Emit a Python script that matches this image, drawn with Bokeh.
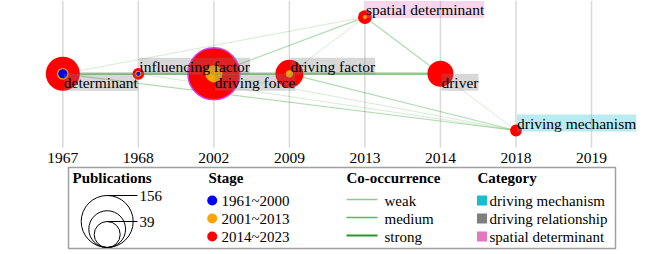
import numpy as np
from bokeh.plotting import figure
from bokeh.models import Range1d, ColumnDataSource
from bokeh.core.properties import value
from bokeh.embed import file_html
from bokeh.resources import INLINE

# ---------------- data ----------------
years = [1967, 1968, 2002, 2009, 2013, 2014, 2018, 2019]
keywords = ["determinant", "influencing factor", "driving force", "driving factor",
            "spatial determinant", "driver", "driving mechanism"]
kw_year = [1967, 1968, 2002, 2009, 2013, 2014, 2018]
kw_lane = [0, 0, 0, 0, 1, 0, -1]
kw_total = [67, 8, 156, 45, 11, 39, 8]          # all publications (to 2023)
kw_upto2013 = [8, 2, 17, 3, 1, 0, 0]             # cumulative to 2013
kw_upto2000 = [5, 1, 0, 0, 0, 0, 0]              # cumulative to 2000
kw_category = ["driving relationship", "driving relationship", "driving relationship",
               "driving relationship", "spatial determinant", "driving relationship",
               "driving mechanism"]
kw_label_side = ["below", "above", "below", "above", "above", "below", "above"]
kw_burst = [False, False, True, False, False, False, False]

edge_src = ["determinant", "influencing factor", "driving force", "driving factor",
            "determinant", "driving force", "driving factor", "spatial determinant",
            "determinant", "influencing factor", "driving force", "driving factor", "driver"]
edge_dst = ["influencing factor", "driving force", "driving factor", "driver",
            "spatial determinant", "spatial determinant", "spatial determinant", "driver",
            "driving mechanism", "driving mechanism", "driving mechanism", "driving mechanism",
            "driving mechanism"]
edge_weight = [20, 18, 25, 22, 2, 6, 2, 5, 6, 3, 4, 6, 4]

stage_labels = ["1961~2000", "2001~2013", "2014~2023"]
stage_colors = ["#0000ff", "#ffa500", "#ff0000"]
categories = ["driving mechanism", "driving relationship", "spatial determinant"]
category_colors = ["#17becf", "#7f7f7f", "#e377c2"]
cooc_labels = ["weak", "medium", "strong"]
cooc_colors = ["#8ccc8c", "#5cb85c", "#2a972a"]
size_legend = [156, 78, 39]
size_legend_labels = ["156", "", "39"]

# ---------------- layout helpers ----------------
W, H = 659, 254
COL0, COLW = 62.3, 75.53
ROW0, ROWH = 73.3, 56.7
MAXR, MAXN = 26.0, 156.0
FONT = value("Liberation Serif")


def X(px):
    return (px - COL0) / COLW


def Y(py):
    return (ROW0 - py) / ROWH


def radius(n):
    return MAXR * np.sqrt(np.asarray(n, dtype=float) / MAXN)


p = figure(width=W, height=H, output_backend="svg", toolbar_location=None,
           x_range=Range1d(X(0), X(W)), y_range=Range1d(Y(H), Y(0)),
           min_border=0, outline_line_color=None)
p.axis.visible = False
p.grid.visible = False
p.background_fill_color = "white"

# gridlines + tick labels
col_idx = list(range(len(years)))
p.segment(x0=col_idx, y0=[Y(0)] * len(years), x1=col_idx, y1=[Y(147)] * len(years),
          line_color="#d9d9d9", line_width=1.5)
p.text(x=col_idx, y=[Y(157.5)] * len(years), text=[str(y) for y in years],
       text_font=FONT, text_font_size="15.5px", text_align="center",
       text_baseline="middle", text_color="black")

# node positions
node_x = [years.index(y) for y in kw_year]
node_y = kw_lane
pos = {k: (node_x[i], node_y[i]) for i, k in enumerate(keywords)}

# edges
def strength(w):
    return "strong" if w >= 15 else ("medium" if w >= 5 else "weak")

edge_style = {"weak": (0.2, 1.0), "medium": (0.38, 1.2), "strong": (0.55, 2.5)}
ex0, ey0, ex1, ey1, ea, ew = [], [], [], [], [], []
for s, d, w in zip(edge_src, edge_dst, edge_weight):
    ex0.append(pos[s][0]); ey0.append(pos[s][1])
    ex1.append(pos[d][0]); ey1.append(pos[d][1])
    a, lw = edge_style[strength(w)]
    ea.append(a); ew.append(lw)
p.segment(x0=ex0, y0=ey0, x1=ex1, y1=ey1, line_color="#2ca02c", line_alpha=ea, line_width=ew)

# nodes (concentric by stage)
outline = ["#d040f0" if b else None for b in kw_burst]
p.scatter(x=node_x, y=node_y, size=2 * radius(kw_total), fill_color=stage_colors[2],
          line_color=outline, line_width=1.5)
sel = [i for i, n in enumerate(kw_upto2013) if n > 0]
p.scatter(x=[node_x[i] for i in sel], y=[node_y[i] for i in sel],
          size=2 * radius([kw_upto2013[i] for i in sel]), fill_color=stage_colors[1], line_color=None)
sel = [i for i, n in enumerate(kw_upto2000) if n > 0]
p.scatter(x=[node_x[i] for i in sel], y=[node_y[i] for i in sel],
          size=2 * radius([kw_upto2000[i] for i in sel]), fill_color=stage_colors[0], line_color=None)

# labels
cat_col = dict(zip(categories, category_colors))
for side in ["above", "below"]:
    idx = [i for i, s in enumerate(kw_label_side) if s == side]
    src = ColumnDataSource(dict(
        x=[node_x[i] for i in idx], y=[node_y[i] for i in idx],
        text=[keywords[i] for i in idx],
        bg=[cat_col[kw_category[i]] for i in idx]))
    p.text(x="x", y="y", text="text", source=src, text_font=FONT, text_font_size="15.5px",
           text_align="left", text_baseline="bottom" if side == "above" else "top",
           x_offset=1, y_offset=1 if side == "above" else 0, text_color="black",
           background_fill_color="bg", background_fill_alpha=0.3)

# ---------------- legend ----------------
p.quad(left=[X(68)], right=[X(615)], top=[Y(167)], bottom=[Y(248)],
       fill_color="white", fill_alpha=0, line_color="#a0a0a0", line_width=1.5)

title_kw = dict(text_font=FONT, text_font_size="15px", text_font_style="bold",
                text_align="left", text_baseline="middle", text_color="black")
lab_kw = dict(text_font=FONT, text_font_size="15px", text_align="left",
              text_baseline="middle", text_color="black")

p.text(x=[X(72), X(208), X(346), X(477)], y=[Y(177)] * 4,
       text=["Publications", "Stage", "Co-occurrence", "Category"], **title_kw)

# size legend
rr = radius(size_legend)
cx = 106.7
bottom_px = 247.0
p.scatter(x=[X(cx)] * 3, y=[Y(bottom_px - r) for r in rr], size=2 * rr,
          fill_color=None, line_color="black", line_width=1)
for r, lab in zip(rr, size_legend_labels):
    if lab:
        ty = bottom_px - 2 * r
        p.segment(x0=[X(cx)], y0=[Y(ty)], x1=[X(137)], y1=[Y(ty)], line_color="black", line_width=1)
        p.text(x=[X(139)], y=[Y(ty)], text=[lab], **lab_kw)

# stage legend
row_px = [200, 218, 236]
p.scatter(x=[X(211.7)] * 3, y=[Y(v) for v in row_px], size=10, fill_color=stage_colors, line_color=None)
p.text(x=[X(221)] * 3, y=[Y(v) for v in row_px], text=stage_labels, **lab_kw)

# co-occurrence legend
for v, c, lw in zip(row_px, cooc_colors, [1.3, 1.5, 2.2]):
    p.segment(x0=[X(346)], y0=[Y(v - 1)], x1=[X(377)], y1=[Y(v - 1)],
              line_color=c, line_width=lw)
p.text(x=[X(384)] * 3, y=[Y(v) for v in row_px], text=cooc_labels, **lab_kw)

# category legend
p.scatter(x=[X(481.5)] * 3, y=[Y(v) for v in row_px], size=10, marker="square",
          fill_color=category_colors, line_color=None)
p.text(x=[X(489)] * 3, y=[Y(v) for v in row_px], text=categories, **lab_kw)

open("out.html", "w").write(file_html(p, INLINE))
